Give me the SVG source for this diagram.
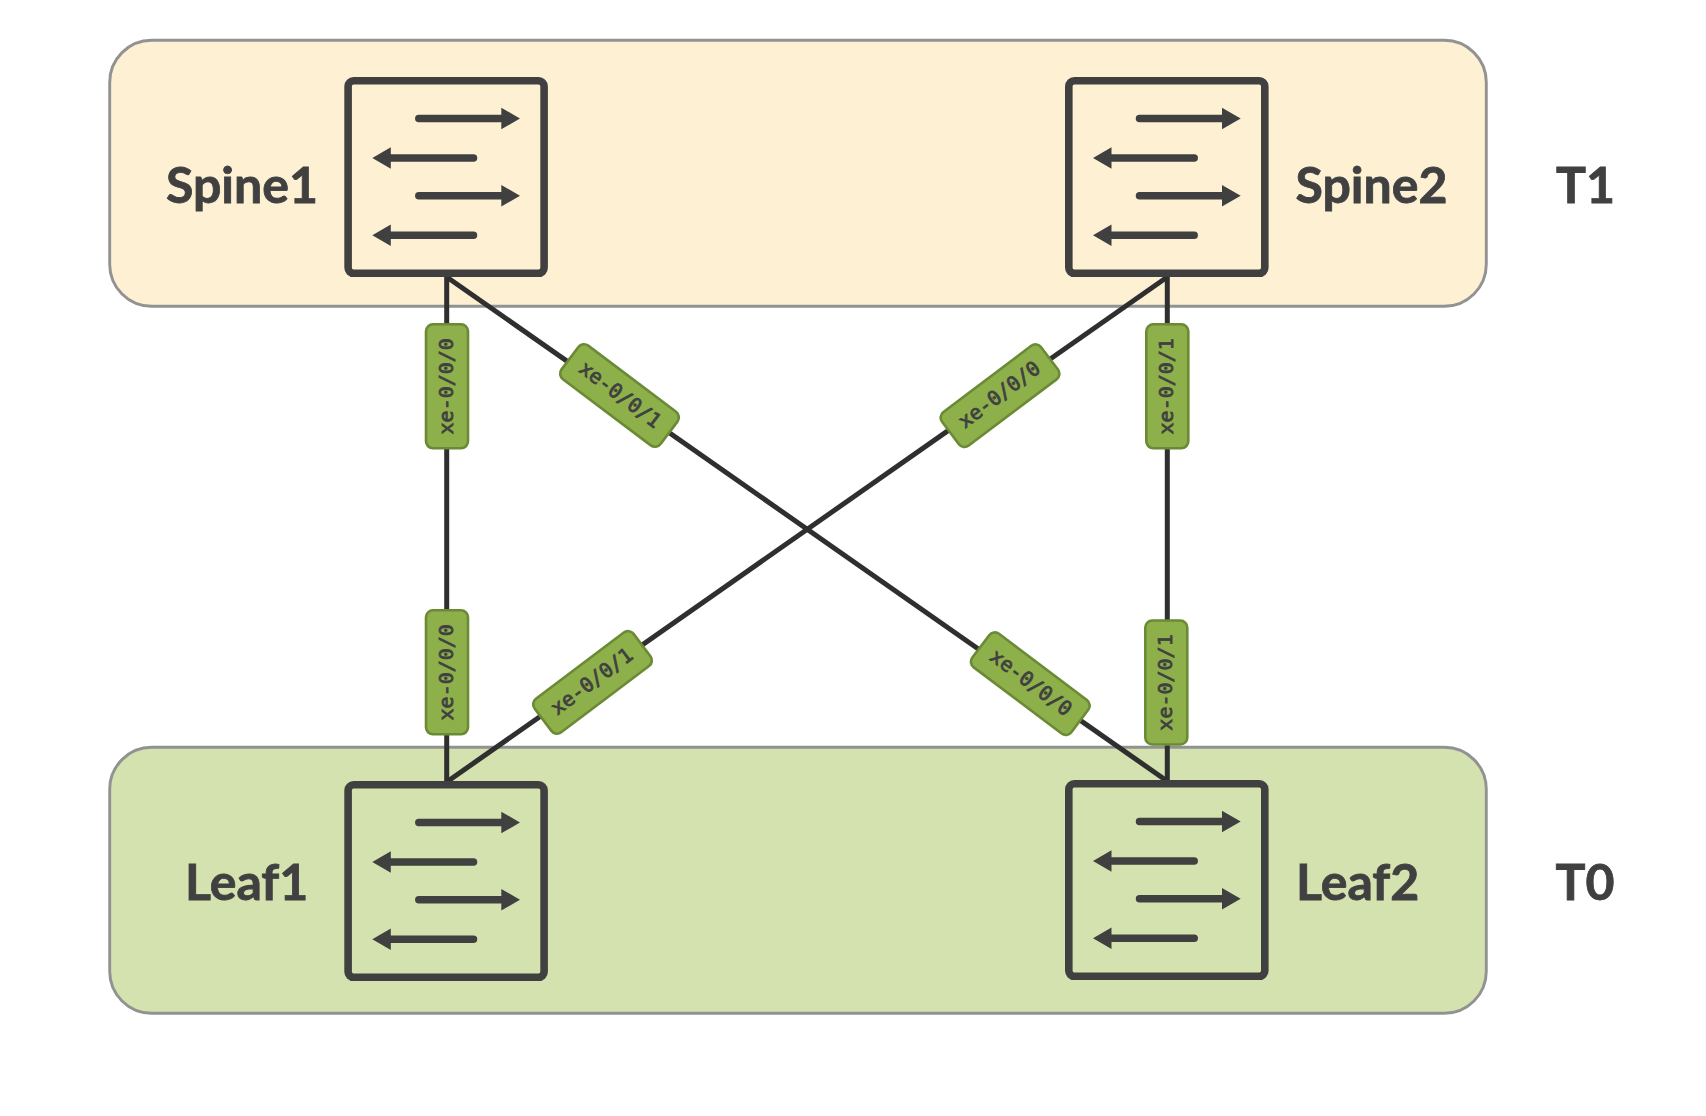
<svg xmlns="http://www.w3.org/2000/svg" width="1706" height="1116" viewBox="0 0 1706 1116">
<style>
.tier{stroke:#929292;stroke-width:2.9}
.t1{fill:#fdf0d3}
.t0{fill:#d3e2ae}
.box{fill:none;stroke:#404040;stroke-width:7.6}
.name{font-family:"Lato","Liberation Sans",sans-serif;font-weight:700;font-size:50px;fill:#404040;stroke:#404040;stroke-width:.8}
.conn{stroke:#2f2f2f;stroke-width:5;fill:none}
.port rect{fill:#8db04a;stroke:#6b8a35;stroke-width:2.6}
.port text{font-family:"DejaVu Sans Mono",monospace;font-size:20px;fill:#404040;stroke:#404040;stroke-width:.8;text-anchor:middle}
.ar{stroke:#404040;stroke-width:7.5;stroke-linecap:round;fill:none}
.hd{fill:#404040}
</style>
<defs>
<g id="sw">
<rect class="box" x="3.8" y="3.8" width="196" height="192.5" rx="5.5"/>
<path class="ar" d="M74.5 41.5H160M129.2 81H44M74.5 118.7H160M129.2 158.3H44"/>
<path class="hd" d="M157 30.7L175.7 41.5L157 52.3ZM46.5 70.2L28 81L46.5 91.8ZM157 107.9L175.7 118.7L157 129.5ZM46.5 147.5L28 158.3L46.5 169.1Z"/>
</g>
</defs>
<g id="tier-t1">
<rect class="tier t1" x="109.7" y="40.3" width="1376.6" height="266" rx="42"/>
<text class="name" x="1556" y="202.5">T1</text>
</g>
<g id="tier-t0">
<rect class="tier t0" x="109.7" y="747.3" width="1376.6" height="266" rx="42"/>
<text class="name" x="1555.5" y="899.5">T0</text>
</g>
<g id="connectors">
<path class="conn" d="M446.7 277V782"/>
<path class="conn" d="M446.7 277L1167 781"/>
<path class="conn" d="M1167.3 277L446.7 782"/>
<path class="conn" d="M1167.3 277V781"/>
</g>
<g id="spine1"><use href="#sw" x="344.3" y="77"/><text class="name" x="166" y="202.5">Spine1</text></g>
<g id="spine2"><use href="#sw" x="1065" y="77"/><text class="name" x="1295.5" y="202.5">Spine2</text></g>
<g id="leaf1"><use href="#sw" x="344.3" y="781"/><text class="name" x="185" y="899.5">Leaf1</text></g>
<g id="leaf2"><use href="#sw" x="1065" y="780"/><text class="name" x="1296" y="899.5">Leaf2</text></g>
<g id="port-labels">
<g class="port" transform="translate(447 386.3) rotate(-90)"><rect x="-62" y="-21" width="124" height="42" rx="7"/><text y="5.5">xe-0/0/0</text></g>
<g class="port" transform="translate(619.5 395.5) rotate(37)"><rect x="-62" y="-21" width="124" height="42" rx="7"/><text y="5.5">xe-0/0/1</text></g>
<g class="port" transform="translate(1000 395.7) rotate(-37)"><rect x="-62" y="-21" width="124" height="42" rx="7"/><text y="5.5">xe-0/0/0</text></g>
<g class="port" transform="translate(1167.3 386.3) rotate(-90)"><rect x="-62" y="-21" width="124" height="42" rx="7"/><text y="5.5">xe-0/0/1</text></g>
<g class="port" transform="translate(447 672.3) rotate(-90)"><rect x="-62" y="-21" width="124" height="42" rx="7"/><text y="5.5">xe-0/0/0</text></g>
<g class="port" transform="translate(592.5 682.4) rotate(-37)"><rect x="-62" y="-21" width="124" height="42" rx="7"/><text y="5.5">xe-0/0/1</text></g>
<g class="port" transform="translate(1030.3 683.7) rotate(37)"><rect x="-62" y="-21" width="124" height="42" rx="7"/><text y="5.5">xe-0/0/0</text></g>
<g class="port" transform="translate(1166.3 682.5) rotate(-90)"><rect x="-62" y="-21" width="124" height="42" rx="7"/><text y="5.5">xe-0/0/1</text></g>
</g>
</svg>
